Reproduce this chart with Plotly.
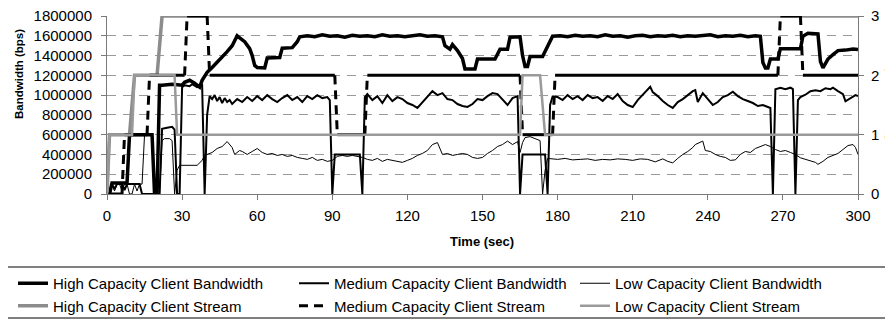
import plotly.graph_objects as go

# ---------------- data ----------------
hbw_t = [0,1,2,8,9,10,18,19,20,21,22,26,30,31,33,35,37,38,40,42,44,46,48,50,52,53,55,57,58,59,60,63,64,69,70,74,76,77,
         80,83,86,89,92,95,98,101,104,107,110,113,116,119,122,125,128,131,134,135,137,138,140,142,143,147,148,155,157,
         160,161,165,166,167,168,169,174,175,176,178,181,184,187,190,193,196,199,202,205,208,211,214,217,220,223,226,
         229,232,235,238,241,244,247,250,253,256,259,261,262,263,264,265,266,268,269,277,278,280,284,285,286,288,290,
         292,295,298,300]
hbw_v = [0,0,110000,110000,600000,600000,600000,0,0,1100000,1100000,1110000,1100000,1130000,1150000,1120000,1080000,
         1150000,1230000,1280000,1330000,1390000,1440000,1500000,1600000,1580000,1540000,1470000,1400000,1300000,
         1280000,1275000,1375000,1380000,1475000,1480000,1540000,1590000,
         1600000,1590000,1610000,1595000,1600000,1585000,1605000,1595000,1600000,1590000,1610000,1595000,1600000,
         1590000,1600000,1610000,1595000,1600000,1590000,1500000,1465000,1510000,1450000,1370000,1265000,1265000,
         1365000,1365000,1465000,1465000,1585000,1590000,1400000,1290000,1290000,1390000,1390000,1440000,1490000,
         1595000,1600000,1590000,1605000,1595000,1600000,1590000,1610000,1595000,1600000,1585000,1600000,1605000,
         1590000,1600000,1595000,1605000,1590000,1600000,1595000,1600000,1610000,1590000,1600000,1595000,1605000,
         1590000,1600000,1595000,1330000,1275000,1275000,1365000,1365000,1365000,1470000,1470000,1595000,1625000,
         1620000,1340000,1275000,1365000,1410000,1450000,1455000,1465000,1460000]

mbw_t = [0,1,2,3,4,6,7,8,13,14,21,22,24,26,27,28,29,30,31,33,34,36,38,39,40,41,42,43,44,45,46,47,48,49,50,52,54,56,58,
         60,62,64,66,68,70,72,74,76,78,80,82,84,86,88,89,90,91,101,102,103,104,106,108,110,112,114,116,118,120,122,
         124,126,128,130,132,134,136,138,140,142,144,146,148,150,152,154,156,158,160,162,164,165,166,175,176,177,178,
         180,182,184,186,188,190,192,194,196,198,200,202,204,206,208,210,212,214,216,217,218,220,222,224,226,228,230,
         232,234,235,236,238,240,242,244,246,248,250,252,254,256,258,260,262,264,265,266,267,269,271,273,274,275,276,
         277,279,281,283,285,287,289,290,292,294,295,297,299,300]
mbw_v = [0,0,100000,50000,100000,100000,40000,100000,100000,0,0,660000,670000,680000,650000,0,0,1080000,1100000,
         1090000,1110000,1080000,1100000,0,800000,990000,960000,1000000,940000,980000,920000,970000,930000,950000,
         910000,960000,930000,980000,940000,990000,950000,1000000,960000,930000,970000,1000000,950000,980000,930000,
         990000,960000,1000000,970000,980000,950000,0,400000,400000,0,980000,1010000,950000,990000,920000,1000000,
         940000,980000,960000,920000,900000,870000,930000,990000,1040000,1000000,1020000,960000,950000,910000,
         890000,880000,910000,960000,950000,990000,1020000,1010000,950000,900000,970000,990000,0,400000,400000,0,
         900000,985000,980000,950000,1000000,960000,990000,950000,1000000,970000,980000,940000,990000,960000,
         1010000,940000,900000,880000,950000,1000000,1050000,1085000,1030000,990000,940000,900000,870000,930000,
         960000,1000000,1040000,1050000,930000,1020000,960000,900000,930000,980000,1000000,1035000,990000,960000,
         940000,920000,890000,900000,880000,870000,0,1060000,1075000,1060000,1075000,1060000,0,950000,980000,
         1004000,1040000,1050000,1040000,1070000,1060000,1075000,1040000,1010000,937000,970000,1000000,990000]

lbw_t = [0,1,2,3,4,5,6,7,8,9,10,11,12,13,14,15,18,19,21,22,23,25,26,27,28,29,36,38,39,40,42,44,46,48,50,51,53,54,
         56,58,60,62,64,66,68,70,72,74,76,78,80,82,84,86,88,90,92,94,96,98,100,102,104,106,108,110,112,114,116,118,
         120,122,124,126,128,130,132,134,136,138,140,142,144,146,148,150,152,154,156,158,160,162,164,165,166,167,
         169,171,173,174,175,176,178,180,183,186,189,192,195,198,201,204,207,210,213,216,219,222,224,226,228,230,
         232,234,235,237,238,239,241,243,245,247,249,251,253,255,257,259,261,263,265,267,269,271,273,275,277,279,
         281,283,284,286,288,290,292,294,296,298,299,300]
lbw_v = [0,0,100000,30000,100000,100000,30000,100000,100000,0,0,100000,30000,100000,100000,600000,600000,0,0,540000,
         560000,560000,540000,0,240000,290000,290000,340000,390000,400000,420000,460000,480000,530000,470000,400000,
         440000,430000,400000,430000,460000,420000,400000,410000,390000,400000,380000,390000,370000,360000,350000,
         370000,340000,350000,330000,340000,380000,390000,380000,390000,380000,370000,350000,340000,360000,330000,
         350000,340000,330000,320000,340000,360000,390000,410000,440000,500000,520000,400000,410000,390000,400000,
         410000,400000,370000,360000,370000,410000,440000,480000,500000,535000,500000,530000,420000,520000,570000,
         580000,560000,540000,0,240000,360000,355000,350000,360000,345000,350000,355000,340000,350000,345000,
         355000,350000,340000,355000,350000,325000,355000,330000,315000,360000,400000,430000,470000,500000,520000,
         535000,440000,430000,400000,380000,370000,340000,345000,400000,430000,420000,460000,480000,500000,480000,
         450000,430000,440000,420000,400000,366000,350000,330000,320000,300000,330000,370000,390000,410000,450000,
         490000,500000,470000,400000]

hs_t = [0, 1, 9, 11, 20, 22, 300]
hs_v = [0, 1, 1, 2, 2, 3, 3]

ms_t = [0, 6, 7, 16, 17, 31, 32, 40, 41, 91, 92, 103, 104, 165, 166, 178, 179, 268, 269, 277, 278, 300]
ms_v = [0, 0, 1, 1, 2, 2, 3, 3, 2, 2, 1, 1, 2, 2, 1, 1, 2, 2, 3, 3, 2, 2]

ls_t = [0, 1, 10, 11, 27, 28, 165, 166, 173, 175, 300]
ls_v = [0, 1, 1, 2, 2, 1, 1, 2, 2, 1, 1]

x_ticks = list(range(0, 301, 30))
y_ticks = list(range(0, 1800001, 200000))
y2_ticks = [0, 1, 2, 3]

# ---------------- helpers ----------------
def split_segments(ts, vs, jumps):
    """Return the pieces of a step series: flat runs or jumps, separated by None."""
    xs, ys = [], []
    for i in range(len(ts) - 1):
        is_jump = vs[i] != vs[i + 1]
        if is_jump == jumps:
            xs += [ts[i], ts[i + 1], None]
            ys += [vs[i], vs[i + 1], None]
    return xs, ys

FONT = "Arial, 'Liberation Sans', Helvetica, sans-serif"
AXC = "#7a7a7a"

fig = go.Figure()

fig.add_trace(go.Scatter(x=hbw_t, y=hbw_v, mode="lines", name="High Capacity Client Bandwidth",
                         line=dict(color="#000000", width=3.5)))
fig.add_trace(go.Scatter(x=mbw_t, y=mbw_v, mode="lines", name="Medium Capacity Client Bandwidth",
                         line=dict(color="#000000", width=2)))
fig.add_trace(go.Scatter(x=lbw_t, y=lbw_v, mode="lines", name="Low Capacity Client Bandwidth",
                         line=dict(color="#000000", width=1)))

fig.add_trace(go.Scatter(x=hs_t, y=hs_v, mode="lines", name="High Capacity Client Stream", yaxis="y2",
                         line=dict(color="#8c8c8c", width=3.5)))
fx, fy = split_segments(ms_t, ms_v, jumps=False)
fig.add_trace(go.Scatter(x=fx, y=fy, mode="lines", showlegend=False, yaxis="y2", hoverinfo="skip",
                         line=dict(color="#000000", width=3)))
jx, jy = split_segments(ms_t, ms_v, jumps=True)
fig.add_trace(go.Scatter(x=jx, y=jy, mode="lines", name="Medium Capacity Client Stream", yaxis="y2",
                         line=dict(color="#000000", width=3, dash="9px,6px")))
fig.add_trace(go.Scatter(x=ls_t, y=ls_v, mode="lines", name="Low Capacity Client Stream", yaxis="y2",
                         line=dict(color="#9a9a9a", width=2.5)))

# The page body has an 8px margin, so figure coordinates = page coordinates - 8.
OFF = 8
W, H = 893 - OFF, 322 - OFF
PL, PR, PT, PB = 107 - OFF, 858 - OFF, 16 - OFF, 194 - OFF
pw, ph = PR - PL, PB - PT

def px_x(x):
    return (x - OFF - PL) / pw

def px_y(y):
    return (PB - (y - OFF)) / ph

fig.update_layout(
    width=W, height=H,
    margin=dict(l=PL, r=W - PR, t=PT, b=H - PB, autoexpand=False),
    paper_bgcolor="white", plot_bgcolor="white",
    font=dict(family=FONT, size=13, color="#000000"),
    showlegend=True,
    legend=dict(orientation="h", x=px_x(13), y=px_y(267), xanchor="left", yanchor="top",
                borderwidth=0, bgcolor="rgba(0,0,0,0)",
                font=dict(family=FONT, size=15, color="#000000"),
                entrywidth=236, entrywidthmode="pixels", tracegroupgap=0),
    shapes=[dict(type="rect", xref="paper", yref="paper",
                 x0=px_x(3), x1=px_x(890), y0=px_y(318), y1=px_y(267),
                 line=dict(color="#000000", width=1), fillcolor="rgba(0,0,0,0)", layer="below")],
    xaxis=dict(range=[0, 300], tickvals=x_ticks, ticktext=[str(v) for v in x_ticks],
               showgrid=False, zeroline=False, showline=True, linecolor=AXC, linewidth=1,
               ticks="outside", ticklen=5, tickcolor=AXC, tickfont=dict(size=15, family=FONT),
               ticklabelstandoff=3, ticklabeloverflow="allow", fixedrange=True),
    yaxis=dict(range=[0, 1800000], tickvals=y_ticks, ticktext=[str(v) for v in y_ticks],
               showgrid=True, gridcolor="#9a9a9a", gridwidth=1, griddash="9px,7px",
               zeroline=False, showline=True, linecolor=AXC, linewidth=1,
               ticks="outside", ticklen=5, tickcolor=AXC, tickfont=dict(size=15, family=FONT),
               ticklabelstandoff=6, ticklabeloverflow="allow"),
    yaxis2=dict(range=[0, 3], tickvals=y2_ticks, ticktext=[str(v) for v in y2_ticks],
                overlaying="y", side="right", showgrid=False, zeroline=False,
                showline=True, linecolor=AXC, linewidth=1,
                ticks="outside", ticklen=5, tickcolor=AXC, tickfont=dict(size=15, family=FONT),
                ticklabelstandoff=4, ticklabeloverflow="allow"),
    annotations=[
        dict(text="<b>Time (sec)</b>", xref="paper", yref="paper", x=px_x(482), y=px_y(241),
             xanchor="center", yanchor="middle", showarrow=False, font=dict(size=13, family=FONT)),
        dict(text="<b>Bandwidth (bps)</b>", xref="paper", yref="paper", x=px_x(19), y=px_y(74),
             xanchor="center", yanchor="middle", showarrow=False, textangle=-90,
             font=dict(size=11.5, family=FONT)),
        dict(text="<b>Stream number</b>", xref="paper", yref="paper", x=px_x(890), y=px_y(97),
             xanchor="center", yanchor="middle", showarrow=False, textangle=-90,
             font=dict(size=12, family=FONT)),
    ],
)

fig.write_html("out.html")
